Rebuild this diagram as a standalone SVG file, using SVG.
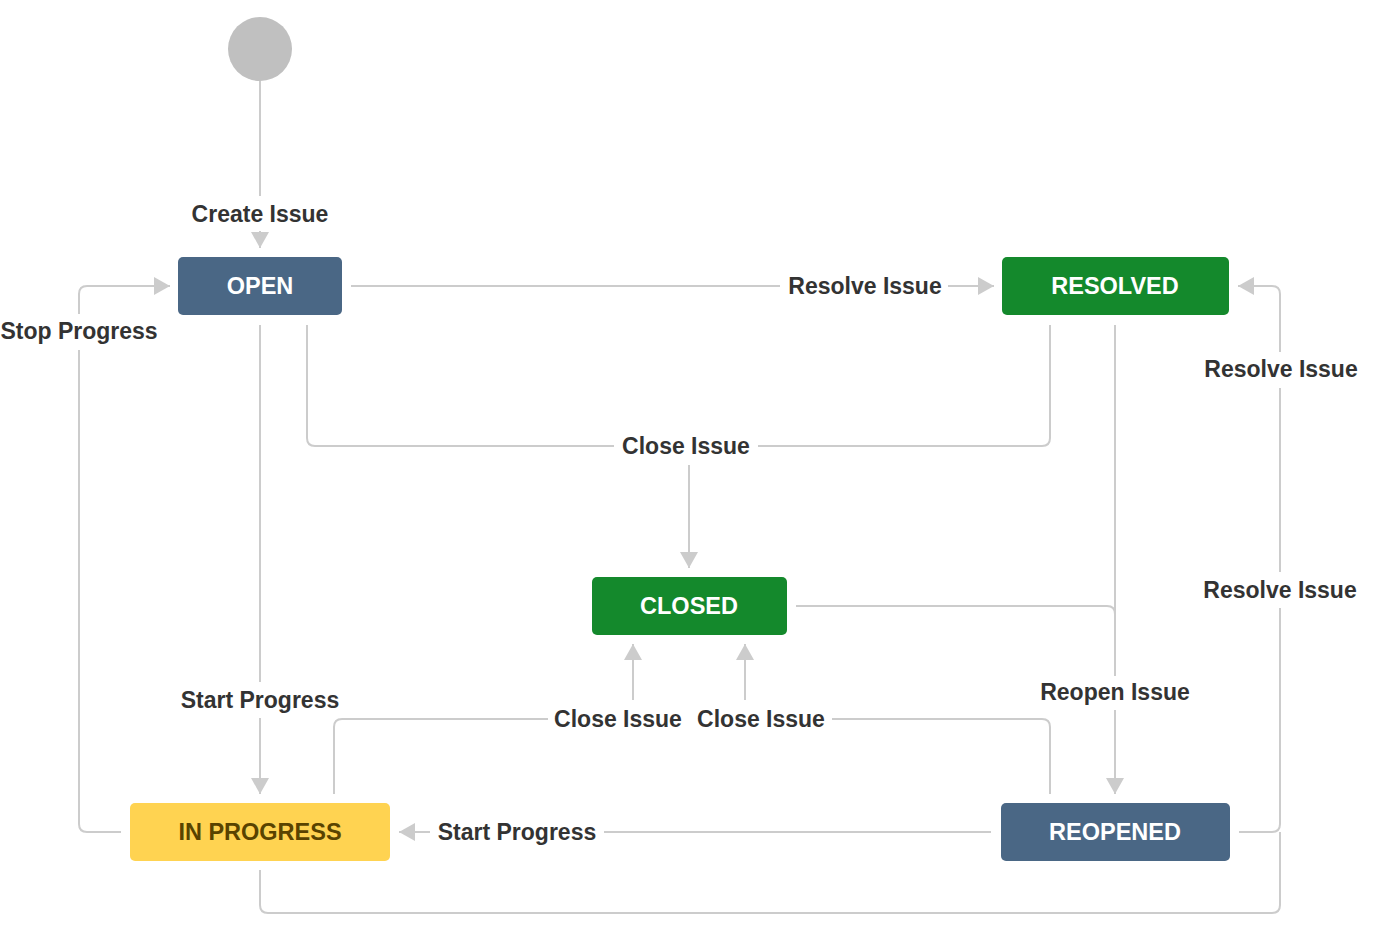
<svg xmlns="http://www.w3.org/2000/svg" width="1381" height="929" viewBox="0 0 1381 929">
<style>
.c{fill:none;stroke:#cccccc;stroke-width:2}
.lbl{font-family:"Liberation Sans",Arial,sans-serif;font-size:23px;font-weight:bold;fill:#333333;text-anchor:middle}
.nt{font-family:"Liberation Sans",Arial,sans-serif;font-size:23.5px;font-weight:bold;fill:#ffffff;text-anchor:middle}
.blue{fill:#4a6785}
.green{fill:#14892c}
.yellow{fill:#ffd351}
</style>
<defs>
<marker id="ah" viewBox="0 0 16 18" refX="16" refY="9" markerWidth="16" markerHeight="18" markerUnits="userSpaceOnUse" orient="auto">
<path d="M0,0 L16,9 L0,18 z" fill="#cccccc"/>
</marker>
</defs>
<rect width="1381" height="929" fill="#ffffff"/>
<g id="connectors">
<path class="c" d="M260,81 V196"/>
<path class="c" d="M260,231 V248" marker-end="url(#ah)"/>
<path class="c" d="M351,286 H780"/>
<path class="c" d="M948,286 H994" marker-end="url(#ah)"/>
<path class="c" d="M307,325 V438 Q307,446 315,446 H614"/>
<path class="c" d="M1050,325 V438 Q1050,446 1042,446 H758"/>
<path class="c" d="M689,465 V568" marker-end="url(#ah)"/>
<path class="c" d="M260,325 V682"/>
<path class="c" d="M260,718 V794" marker-end="url(#ah)"/>
<path class="c" d="M121,832 H87 Q79,832 79,824 V350"/>
<path class="c" d="M79,314 V294 Q79,286 87,286 H170" marker-end="url(#ah)"/>
<path class="c" d="M1115,325 V676"/>
<path class="c" d="M796,606 H1107 Q1115,606 1115,614"/>
<path class="c" d="M1115,710 V794" marker-end="url(#ah)"/>
<path class="c" d="M991,832 H604"/>
<path class="c" d="M430,832 H399" marker-end="url(#ah)"/>
<path class="c" d="M334,794 V727 Q334,719 342,719 H548"/>
<path class="c" d="M633,700 V644" marker-end="url(#ah)"/>
<path class="c" d="M1050,794 V727 Q1050,719 1042,719 H832"/>
<path class="c" d="M745,700 V644" marker-end="url(#ah)"/>
<path class="c" d="M1239,832 H1272 Q1280,832 1280,824 V608"/>
<path class="c" d="M1280,572 V388"/>
<path class="c" d="M1280,352 V294 Q1280,286 1272,286 H1238" marker-end="url(#ah)"/>
<path class="c" d="M260,870 V905 Q260,913 268,913 H1272 Q1280,913 1280,905 V832"/>
<text class="lbl" x="260" y="222">Create Issue</text>
<text class="lbl" x="865" y="294">Resolve Issue</text>
<text class="lbl" x="686" y="454">Close Issue</text>
<text class="lbl" x="79" y="339">Stop Progress</text>
<text class="lbl" x="260" y="708">Start Progress</text>
<text class="lbl" x="1115" y="700">Reopen Issue</text>
<text class="lbl" x="517" y="840">Start Progress</text>
<text class="lbl" x="618" y="727">Close Issue</text>
<text class="lbl" x="761" y="727">Close Issue</text>
<text class="lbl" x="1281" y="377">Resolve Issue</text>
<text class="lbl" x="1280" y="598">Resolve Issue</text>
</g>
<g id="start">
<circle cx="260" cy="49" r="32" fill="#c0c0c0"/>
</g>
<g id="open">
<rect class="blue" x="178" y="257" width="164" height="58" rx="5"/>
<text class="nt" x="260" y="294">OPEN</text>
</g>
<g id="resolved">
<rect class="green" x="1002" y="257" width="227" height="58" rx="5"/>
<text class="nt" x="1115" y="294">RESOLVED</text>
</g>
<g id="closed">
<rect class="green" x="592" y="577" width="195" height="58" rx="5"/>
<text class="nt" x="689" y="614">CLOSED</text>
</g>
<g id="inprogress">
<rect class="yellow" x="130" y="803" width="260" height="58" rx="5"/>
<text class="nt" x="260" y="840" style="fill:#594300">IN PROGRESS</text>
</g>
<g id="reopened">
<rect class="blue" x="1001" y="803" width="229" height="58" rx="5"/>
<text class="nt" x="1115" y="840">REOPENED</text>
</g>
</svg>
